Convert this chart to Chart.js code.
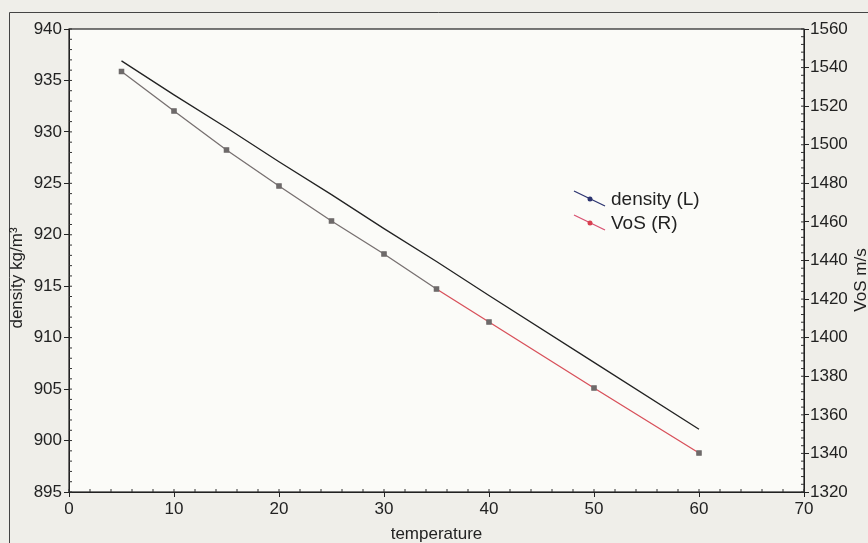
<!DOCTYPE html>
<html>
<head>
<meta charset="utf-8">
<script src="https://cdn.jsdelivr.net/npm/chart.js@4.4.1/dist/chart.umd.min.js"></script>
<style>
  body { margin: 0; background: #efeee9; }
  canvas { display: block; }
</style>
</head>
<body>
<canvas id="tempChart" width="868" height="543"></canvas>
<script>
// data
const temperature = [5, 10, 15, 20, 25, 30, 35, 40, 50, 60];
const density = [936.9, 933.6, 930.4, 927.1, 923.9, 920.6, 917.4, 914.1, 907.6, 901.1];
const vos = [1538.0, 1517.5, 1497.3, 1478.6, 1460.5, 1443.4, 1425.2, 1408.1, 1373.9, 1340.2];
const xTicks = [0, 10, 20, 30, 40, 50, 60, 70];
const leftTicks = [895, 900, 905, 910, 915, 920, 925, 930, 935, 940];
const rightTicks = [1320, 1340, 1360, 1380, 1400, 1420, 1440, 1460, 1480, 1500, 1520, 1540, 1560];

const grey = '#777070';
const red = '#d8505a';
const fontFam = 'Arial, "Liberation Sans", sans-serif';

// background, frame, plot box, minor ticks, y titles and legend
const framePlugin = {
    id: 'frame',
    beforeDraw(chart) {
        const c = chart.ctx, a = chart.chartArea;
        c.save();
        c.fillStyle = '#efeee9';
        c.fillRect(0, 0, chart.width, chart.height);
        c.strokeStyle = '#444';
        c.lineWidth = 1;
        c.beginPath();
        c.moveTo(9.5, chart.height);
        c.lineTo(9.5, 12.5);
        c.lineTo(chart.width, 12.5);
        c.stroke();
        c.fillStyle = '#fbfbf8';
        c.fillRect(a.left, a.top, a.right - a.left, a.bottom - a.top);
        c.restore();
    },
    afterDraw(chart) {
        const c = chart.ctx, a = chart.chartArea;
        c.save();
        c.strokeStyle = '#222';
        c.lineWidth = 1.2;
        c.strokeRect(a.left, a.top, a.right - a.left, a.bottom - a.top);

        // minor ticks
        const minor = [['x', 2], ['y', 1], ['y2', 4]];
        c.lineWidth = 1;
        c.strokeStyle = '#333';
        minor.forEach(([id, step]) => {
            const s = chart.scales[id];
            for (let v = s.min; v <= s.max + 1e-9; v += step) {
                const p = s.getPixelForValue(v);
                c.beginPath();
                if (id === 'x') { c.moveTo(p, a.bottom); c.lineTo(p, a.bottom - 3); }
                else if (id === 'y') { c.moveTo(a.left, p); c.lineTo(a.left + 3, p); }
                else { c.moveTo(a.right, p); c.lineTo(a.right - 3, p); }
                c.stroke();
            }
        });

        // y axis titles (both read bottom to top)
        c.fillStyle = '#222';
        c.font = '17px ' + fontFam;
        c.textAlign = 'center';
        c.textBaseline = 'middle';
        c.save();
        c.translate(17, 278);
        c.rotate(-Math.PI / 2);
        c.fillText('density kg/m\u00b3', 0, 0);
        c.restore();
        c.save();
        c.translate(861, 280);
        c.rotate(-Math.PI / 2);
        c.fillText('VoS m/s', 0, 0);
        c.restore();

        // legend
        const items = [
            { label: chart.data.datasets[0].label, color: '#2c3470', dot: '#2c3470', y: 199 },
            { label: chart.data.datasets[1].label, color: '#d85070', dot: '#d84050', y: 223 }
        ];
        c.font = '19px ' + fontFam;
        c.textAlign = 'left';
        items.forEach(it => {
            c.strokeStyle = it.color;
            c.lineWidth = 1.3;
            c.beginPath();
            c.moveTo(574, it.y - 8);
            c.lineTo(605, it.y + 7);
            c.stroke();
            c.fillStyle = it.dot;
            c.beginPath();
            c.arc(590, it.y, 2.5, 0, Math.PI * 2);
            c.fill();
            c.fillStyle = '#222';
            c.fillText(it.label, 611, it.y + 1);
        });
        c.restore();
    }
};

const tickFont = { family: fontFam, size: 17 };

function fixedTicks(list) {
    return function(scale) {
        scale.ticks = list.map(v => ({ value: v }));
    };
}

let ctx = document.getElementById('tempChart').getContext('2d');

let tempChart = new Chart(ctx, {
    type: 'line',
    data: {
        datasets: [{
            label: 'density (L)',
            data: temperature.map((t, i) => ({ x: t, y: density[i] })),
            yAxisID: 'y',
            borderColor: '#222',
            borderWidth: 1.3,
            pointRadius: 0,
            tension: 0
        }, {
            label: 'VoS (R)',
            data: temperature.map((t, i) => ({ x: t, y: vos[i] })),
            yAxisID: 'y2',
            borderWidth: 1.3,
            borderColor: grey,
            segment: {
                borderColor: c => c.p0.parsed.x >= 35 ? red : grey
            },
            pointStyle: 'rect',
            pointRadius: 3,
            pointBackgroundColor: '#6e6a6a',
            pointBorderColor: '#6e6a6a',
            tension: 0
        }]
    },
    options: {
        responsive: false,
        animation: false,
        devicePixelRatio: 1,
        layout: { padding: { top: 29, left: 0, right: 0, bottom: 0 } },
        plugins: {
            legend: { display: false },
            tooltip: { enabled: false }
        },
        scales: {
            x: {
                type: 'linear',
                position: 'bottom',
                min: 0,
                max: 70,
                afterBuildTicks: fixedTicks(xTicks),
                afterFit: s => { s.height = 51; },
                ticks: { font: tickFont, color: '#222', padding: 2, maxRotation: 0, callback: v => String(v) },
                grid: { drawOnChartArea: false, tickLength: 5, color: '#222' },
                border: { color: '#222' },
                title: {
                    display: true,
                    text: 'temperature',
                    color: '#222',
                    font: { family: fontFam, size: 17 },
                    padding: { top: 0, bottom: -2 }
                }
            },
            y: {
                position: 'left',
                min: 895,
                max: 940,
                afterBuildTicks: fixedTicks(leftTicks),
                afterFit: s => { s.width = 69; },
                ticks: { font: tickFont, color: '#222', padding: 2, callback: v => String(v) },
                grid: { drawOnChartArea: false, tickLength: 5, color: '#222' },
                border: { color: '#222' }
            },
            y2: {
                position: 'right',
                min: 1320,
                max: 1560,
                afterBuildTicks: fixedTicks(rightTicks),
                afterFit: s => { s.width = 64; },
                ticks: { font: tickFont, color: '#222', padding: 1, callback: v => String(v) },
                grid: { drawOnChartArea: false, tickLength: 5, color: '#222' },
                border: { color: '#222' }
            }
        }
    },
    plugins: [framePlugin]
});
</script>
</body>
</html>
